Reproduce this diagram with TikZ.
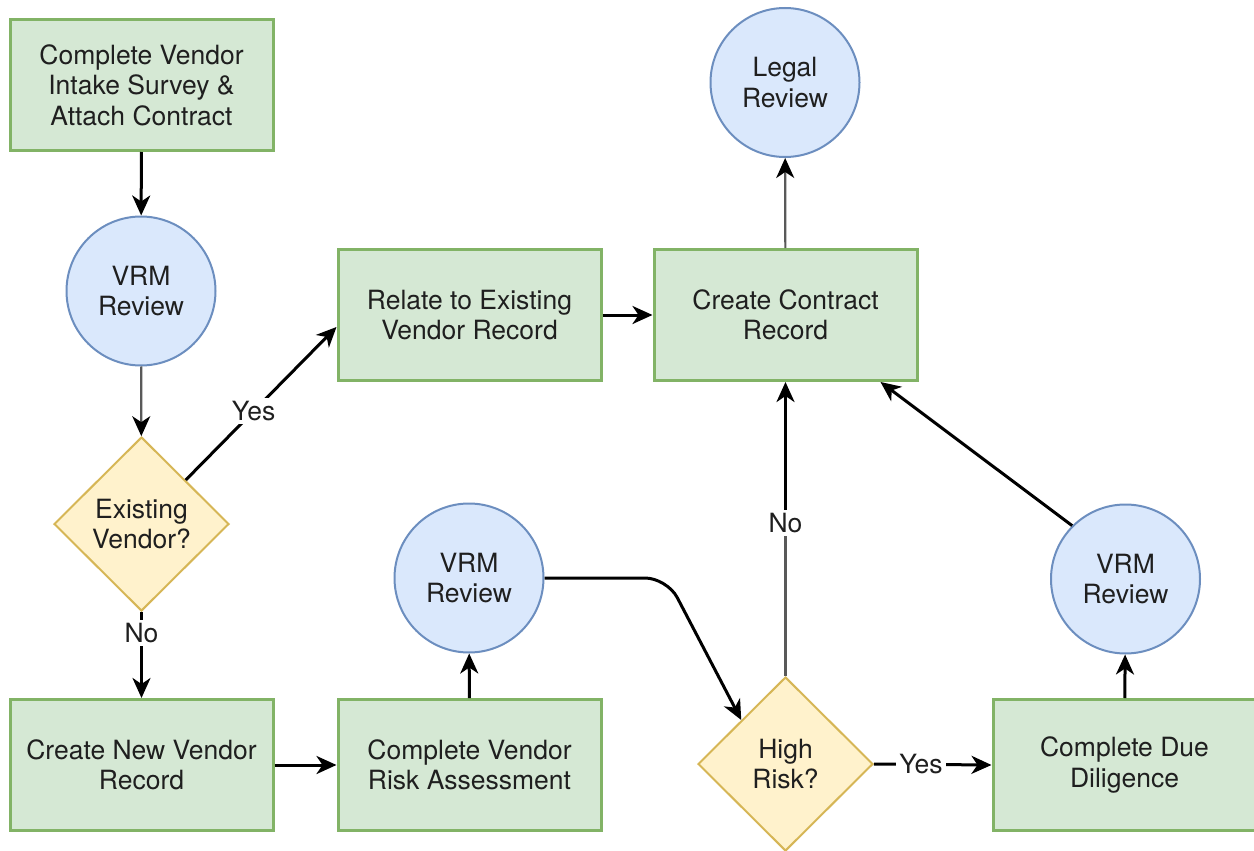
\documentclass[tikz,border=0pt]{standalone}
\usepackage{fontspec}
\setmainfont{TeX Gyre Heros}
\usetikzlibrary{shapes.geometric,arrows.meta}
\definecolor{taskfill}{HTML}{D5E8D4}
\definecolor{taskline}{HTML}{82B366}
\definecolor{revfill}{HTML}{DAE8FC}
\definecolor{revline}{HTML}{6C8EBF}
\definecolor{decfill}{HTML}{FFF2CC}
\definecolor{decline}{HTML}{D6B656}
\begin{document}
\begin{tikzpicture}[x=1pt,y=-1pt,
  every node/.style={font=\fontsize{26.5}{30.5}\selectfont, text=black!88},
  task/.style={rectangle, draw=taskline, fill=taskfill, line width=3pt,
    minimum width=263pt, minimum height=131pt, align=center, inner sep=0pt},
  review/.style={circle, draw=revline, fill=revfill, line width=2pt,
    minimum size=149pt, align=center, inner sep=0pt},
  decision/.style={diamond, draw=decline, fill=decfill, line width=2pt,
    minimum width=175pt, minimum height=174pt, align=center, inner sep=0pt},
  tip/.style={-{Stealth[length=20pt,width=18pt,inset=6pt]}},
  flow/.style={line width=3pt, tip},
  thinflow/.style={line width=2.2pt, draw=black!65,
    -{Stealth[length=20pt,width=18pt,inset=6pt,color=black,fill=black]}},
  thinline/.style={line width=2.2pt, draw=black!65},
  lbl/.style={fill=white, inner sep=3pt}]
\useasboundingbox (0,0) rectangle (1254,851);

% process steps, reviews and decisions
\node[task] (intake) at (141.5,85) {Complete Vendor\\Intake Survey \&\\Attach Contract};
\node[review] (vrmA) at (141,291) {VRM\\Review};
\node[decision] (exist) at (141.5,524) {Existing\\Vendor?};
\node[task] (newrec) at (141.5,765) {Create New Vendor\\Record};
\node[task] (risk) at (469.5,765) {Complete Vendor\\Risk Assessment};
\node[review] (vrmB) at (469,578) {VRM\\Review};
\node[task] (relate) at (469.5,315) {Relate to Existing\\Vendor Record};
\node[task] (contract) at (785.5,315) {Create Contract\\Record};
\node[review] (legal) at (785,82.5) {Legal\\Review};
\node[decision] (high) at (785.5,764) {High\\Risk?};
\node[task] (diligence) at (1124.5,765) {Complete Due\\Diligence};
\node[review] (vrmC) at (1125.5,579) {VRM\\Review};

\coordinate (bend) at (667,578);

% connectors
\draw[flow] (intake) -- (vrmA);
\draw[thinflow] (vrmA) -- (exist);
\draw[flow] (exist.north east) -- node[lbl,pos=0.45]{Yes} ([yshift=-12pt]relate.west);
\draw[flow] (exist.south) -- node[lbl,pos=0.24]{No} (newrec.north);
\draw[flow] (newrec) -- (risk);
\draw[flow] (risk) -- (vrmB);
\draw[flow, rounded corners=22pt] (vrmB.east) -- (bend) -- (high.north west);
\draw[flow] (relate) -- (contract);
\draw[thinflow] (contract) -- (legal);
\node[lbl] (noB) at (785.5,523) {No};
\draw[thinline] (high.north) -- (noB);
\draw[flow] (noB) -- (contract);
\draw[flow] (high.east) -- node[lbl,pos=0.4]{Yes} (diligence.west);
\draw[flow] (diligence) -- (vrmC);
\draw[flow] (vrmC.north west) -- ([xshift=-38pt]contract.south east);
\end{tikzpicture}
\end{document}
